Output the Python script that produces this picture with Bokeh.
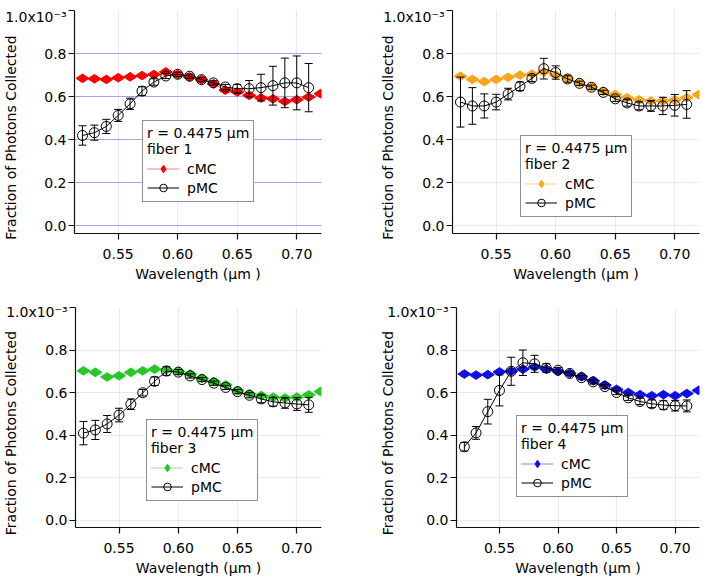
from bokeh.plotting import figure
from bokeh.layouts import column, row
from bokeh.models import (Whisker, TeeHead, ColumnDataSource, Legend, LegendItem,
                          FixedTicker, Range1d)
from bokeh.embed import file_html
from bokeh.resources import INLINE

# ---------------- data ----------------
wl_cmc = [0.52, 0.53, 0.54, 0.55, 0.56, 0.57, 0.58, 0.59, 0.60, 0.61, 0.62,
          0.63, 0.64, 0.65, 0.66, 0.67, 0.68, 0.69, 0.70, 0.71, 0.72]
wl_pmc = [0.52, 0.53, 0.54, 0.55, 0.56, 0.57, 0.58, 0.59, 0.60, 0.61,
          0.62, 0.63, 0.64, 0.65, 0.66, 0.67, 0.68, 0.69, 0.70, 0.71]

cmc_fiber1 = [0.685, 0.683, 0.680, 0.688, 0.692, 0.698, 0.703, 0.715, 0.703, 0.692, 0.679,
              0.660, 0.630, 0.622, 0.606, 0.594, 0.590, 0.578, 0.586, 0.598, 0.614]
cmc_fiber2 = [0.695, 0.680, 0.670, 0.680, 0.690, 0.700, 0.705, 0.715, 0.700, 0.685, 0.665,
              0.645, 0.625, 0.610, 0.595, 0.585, 0.580, 0.580, 0.585, 0.595, 0.610]
cmc_fiber3 = [0.702, 0.695, 0.673, 0.679, 0.695, 0.702, 0.710, 0.707, 0.700, 0.687, 0.667,
              0.651, 0.636, 0.609, 0.594, 0.586, 0.578, 0.574, 0.578, 0.589, 0.605]
cmc_fiber4 = [0.687, 0.682, 0.684, 0.697, 0.700, 0.710, 0.720, 0.710, 0.700, 0.690, 0.675,
              0.655, 0.635, 0.615, 0.600, 0.590, 0.585, 0.590, 0.585, 0.595, 0.610]

pmc_fiber1 = [0.420, 0.433, 0.462, 0.513, 0.567, 0.626, 0.668, 0.696, 0.704, 0.695,
              0.679, 0.664, 0.645, 0.637, 0.637, 0.642, 0.651, 0.664, 0.664, 0.642]
err_fiber1 = [0.045, 0.035, 0.033, 0.028, 0.026, 0.020, 0.015, 0.012, 0.010, 0.010,
              0.010, 0.010, 0.012, 0.020, 0.038, 0.062, 0.090, 0.115, 0.125, 0.112]
pmc_fiber2 = [0.575, 0.557, 0.557, 0.575, 0.612, 0.648, 0.685, 0.730, 0.712, 0.682,
              0.662, 0.644, 0.620, 0.590, 0.571, 0.557, 0.557, 0.557, 0.560, 0.564]
err_fiber2 = [0.116, 0.085, 0.056, 0.036, 0.027, 0.020, 0.015, 0.048, 0.031, 0.015,
              0.010, 0.010, 0.010, 0.012, 0.015, 0.018, 0.025, 0.040, 0.050, 0.064]
pmc_fiber3 = [0.409, 0.424, 0.452, 0.494, 0.545, 0.599, 0.653, 0.701, 0.696, 0.678,
              0.661, 0.644, 0.624, 0.604, 0.587, 0.570, 0.556, 0.551, 0.546, 0.542]
err_fiber3 = [0.055, 0.045, 0.040, 0.032, 0.025, 0.015, 0.020, 0.020, 0.012, 0.010,
              0.010, 0.010, 0.010, 0.010, 0.012, 0.018, 0.020, 0.025, 0.030, 0.035]
pmc_fiber4 = [0.345, 0.410, 0.510, 0.610, 0.700, 0.740, 0.735, 0.715, 0.705, 0.690,
              0.670, 0.650, 0.628, 0.600, 0.575, 0.558, 0.547, 0.541, 0.538, 0.537]
err_fiber4 = [0.020, 0.030, 0.058, 0.073, 0.066, 0.060, 0.040, 0.020, 0.012, 0.010,
              0.010, 0.010, 0.010, 0.010, 0.012, 0.015, 0.018, 0.020, 0.025, 0.028]

fiber_names = ["fiber 1", "fiber 2", "fiber 3", "fiber 4"]
radius_text = "r = 0.4475 µm"
series_names = ["cMC", "pMC"]

x_ticks = [0.55, 0.60, 0.65, 0.70]
x_tick_labels = ["0.55", "0.60", "0.65", "0.70"]
y_ticks = [0.0, 0.2, 0.4, 0.6, 0.8, 1.0]
y_tick_labels = ["0.0", "0.2", "0.4", "0.6", "0.8", "\n1.0x10⁻³"]

x_title = "Wavelength (µm )"
y_title = "Fraction of Photons Collected"

# ---------------- style ----------------
FONT = "DejaVu Sans"
FS = "14px"
X0, X1 = 0.5133, 0.7208
Y0, Y1 = -0.035, 1.0
LIGHT_GRID = "#D0D0F2"
YLABEL_PAD = "\u00a0" * 7   # shifts the rotated y title down along the axis


def panel(cmc, pmc, err, color, fiber, width, height, mb_left, mb_right, mb_top,
          mb_bottom, ygrid_color, legend_loc, ylab_standoff):
    p = figure(width=width, height=height, x_range=Range1d(X0, X1),
               y_range=Range1d(Y0, Y1), output_backend="svg", toolbar_location=None,
               min_border_left=mb_left, min_border_right=mb_right,
               min_border_top=mb_top, min_border_bottom=mb_bottom)
    p.outline_line_color = None
    p.background_fill_color = "white"
    p.border_fill_color = "white"

    # axes
    p.xaxis.ticker = FixedTicker(ticks=x_ticks)
    p.xaxis.major_label_overrides = dict(zip(x_ticks, x_tick_labels))
    p.yaxis.ticker = FixedTicker(ticks=y_ticks)
    p.yaxis.major_label_overrides = dict(zip(y_ticks, y_tick_labels))
    for ax in (p.xaxis[0], p.yaxis[0]):
        ax.axis_line_color = "#111111"
        ax.axis_line_width = 1.2
        ax.major_tick_line_color = "#111111"
        ax.major_tick_line_width = 1.2
        ax.major_tick_in = 0
        ax.major_tick_out = 6
        ax.minor_tick_line_color = None
        ax.major_label_text_font = FONT
        ax.major_label_text_font_size = FS
        ax.major_label_text_color = "black"
        ax.axis_label_text_font = FONT
        ax.axis_label_text_font_size = FS
        ax.axis_label_text_font_style = "normal"
        ax.axis_label_text_color = "black"
    p.xaxis.axis_label = x_title
    p.xaxis.major_label_standoff = 9
    p.xaxis.axis_label_standoff = 4
    p.yaxis.axis_label = y_title + YLABEL_PAD
    p.yaxis.major_label_standoff = 2
    p.yaxis.major_label_text_line_height = 0.55
    p.yaxis.axis_label_standoff = ylab_standoff

    # grid
    p.ygrid.grid_line_color = ygrid_color
    p.ygrid.grid_line_dash = "1 1"
    p.ygrid.grid_line_width = 1
    p.xgrid.grid_line_color = LIGHT_GRID
    p.xgrid.grid_line_dash = "1 1"
    p.xgrid.grid_line_width = 1

    # cMC
    cl = p.line(wl_cmc, cmc, line_color=color, line_width=1, line_dash="1 1")
    cs = p.scatter(wl_cmc, cmc, marker="diamond", size=13, angle=1.5708,
                   fill_color=color, line_color=color)

    # pMC
    src = ColumnDataSource(dict(x=wl_pmc, y=pmc,
                                upper=[v + e for v, e in zip(pmc, err)],
                                lower=[v - e for v, e in zip(pmc, err)]))
    pl = p.line("x", "y", source=src, line_color="black", line_width=1)
    ps = p.scatter("x", "y", source=src, marker="circle", size=10,
                   fill_alpha=0, line_color="black", line_width=1)
    wh = Whisker(source=src, base="x", upper="upper", lower="lower",
                 line_color="black", line_width=1, level="annotation",
                 upper_head=TeeHead(size=8, line_color="black", line_width=1),
                 lower_head=TeeHead(size=8, line_color="black", line_width=1))
    p.add_layout(wh)

    leg = Legend(items=[LegendItem(label=series_names[0], renderers=[cl, cs]),
                        LegendItem(label=series_names[1], renderers=[pl, ps])],
                 location=legend_loc, title=radius_text + "\n" + fiber)
    leg.title_text_font = FONT
    leg.title_text_font_size = FS
    leg.title_text_font_style = "normal"
    leg.title_text_color = "black"
    leg.title_text_line_height = 1.5
    leg.title_standoff = 2
    leg.label_text_font = FONT
    leg.label_text_font_size = FS
    leg.label_text_color = "black"
    leg.glyph_width = 32
    leg.glyph_height = 19
    leg.label_height = 19
    leg.label_standoff = 8
    leg.spacing = 0
    leg.padding = 4
    leg.margin = 0
    leg.border_line_color = "#222222"
    leg.border_line_width = 1.2
    leg.background_fill_color = "white"
    leg.background_fill_alpha = 1.0
    p.add_layout(leg)
    return p


p1 = panel(cmc_fiber1, pmc_fiber1, err_fiber1, "#FF0000", fiber_names[0],
           354, 289, 71, 33, 10, 56, "#4646D0", (68, 31), -17)
p2 = panel(cmc_fiber2, pmc_fiber2, err_fiber2, "#F8A51B", fiber_names[1],
           354, 289, 98, 9, 10, 56, LIGHT_GRID, (68, 16), -16)
p3 = panel(cmc_fiber3, pmc_fiber3, err_fiber3, "#27C727", fiber_names[2],
           354, 289, 70, 33, 18, 48, LIGHT_GRID, (71, 26), -16)
p4 = panel(cmc_fiber4, pmc_fiber4, err_fiber4, "#1010E6", fiber_names[3],
           354, 289, 102, 9, 18, 48, LIGHT_GRID, (60, 30), -12)

layout = column(row(p1, p2, spacing=0), row(p3, p4, spacing=0), spacing=0)
open("out.html", "w").write(file_html(layout, INLINE))
